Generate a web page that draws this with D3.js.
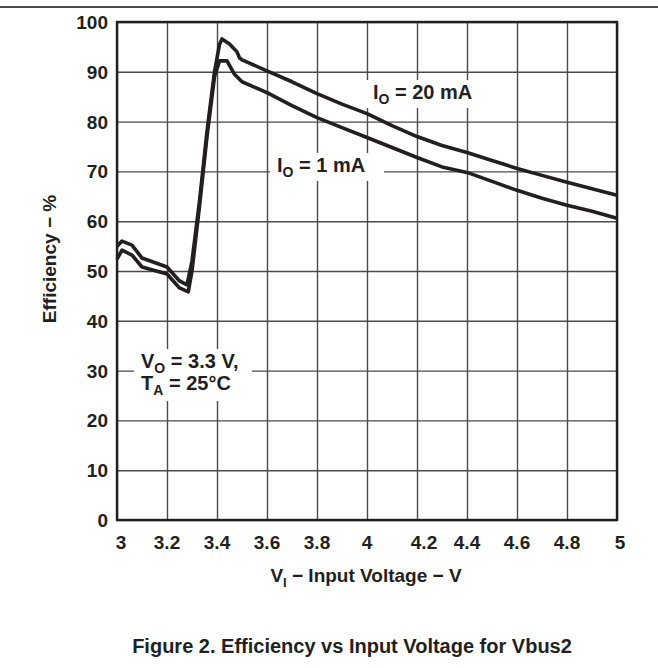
<!DOCTYPE html>
<head>
	<script src="https://d3js.org/d3.v7.min.js"></script>
	<style type="text/css">
		body { margin: 0; background: #fff; }
		svg text { font-family: "Liberation Sans", Arial, sans-serif; font-weight: bold; fill: #231f20; }
	</style>
</head>
<body>
	<div id="chart"></div>
</body>
<script>
	// values
	var vIn20 = [3.0, 3.02, 3.06, 3.1, 3.2, 3.25, 3.28, 3.3, 3.33, 3.36, 3.39, 3.41, 3.42, 3.45, 3.48, 3.49, 3.5, 3.6, 3.7, 3.8, 3.9, 4.0, 4.1, 4.2, 4.3, 4.4, 4.5, 4.6, 4.7, 4.8, 4.9, 5.0];
	var eff20 = [55.0, 56.0, 55.2, 52.6, 50.8, 48.0, 47.2, 52, 64, 78, 90, 95.5, 96.6, 95.6, 94.0, 92.8, 92.4, 90.2, 88.0, 85.6, 83.5, 81.6, 79.2, 77.0, 75.2, 73.8, 72.2, 70.6, 69.2, 67.8, 66.5, 65.2];

	var vIn1 = [3.0, 3.02, 3.06, 3.1, 3.2, 3.25, 3.285, 3.3, 3.33, 3.36, 3.39, 3.41, 3.44, 3.47, 3.5, 3.6, 3.7, 3.8, 3.9, 4.0, 4.1, 4.2, 4.3, 4.4, 4.5, 4.6, 4.7, 4.8, 4.9, 5.0];
	var eff1 = [52.4, 54.2, 53.2, 50.8, 49.4, 46.6, 45.8, 50, 63, 77, 89, 92.2, 92.2, 89.5, 88.0, 85.8, 83.2, 80.8, 78.8, 76.8, 74.8, 72.8, 70.9, 69.8, 68.0, 66.2, 64.6, 63.2, 62.0, 60.6];

	var xTicks = [3, 3.2, 3.4, 3.6, 3.8, 4, 4.2, 4.4, 4.6, 4.8, 5];
	var yTicks = [0, 10, 20, 30, 40, 50, 60, 70, 80, 90, 100];

	var width = 658, height = 668;
	var pLeft = 117, pRight = 617, pTop = 22, pBottom = 520;

	var svg = d3.select("#chart").append("svg")
		.attr("width", width)
		.attr("height", height);

	var x = d3.scaleLinear().domain([3, 5]).range([pLeft, pRight]);
	var y = d3.scaleLinear().domain([0, 100]).range([pBottom, pTop]);

	// rule at page top
	svg.append("line")
		.attr("x1", 0).attr("x2", width)
		.attr("y1", 7).attr("y2", 7)
		.attr("stroke", "#111").attr("stroke-width", 1.5);

	// grid
	svg.append("g")
		.attr("transform", "translate(0," + pBottom + ")")
		.call(d3.axisBottom(x).tickValues(xTicks).tickSize(-(pBottom - pTop)).tickFormat(""))
		.call(g => g.select(".domain").remove())
		.call(g => g.selectAll("line").attr("stroke", "#4a4a4a").attr("stroke-width", 1.4));
	svg.append("g")
		.attr("transform", "translate(" + pLeft + ",0)")
		.call(d3.axisLeft(y).tickValues(yTicks).tickSize(-(pRight - pLeft)).tickFormat(""))
		.call(g => g.select(".domain").remove())
		.call(g => g.selectAll("line").attr("stroke", "#4a4a4a").attr("stroke-width", 1.4));

	// frame
	svg.append("rect")
		.attr("x", pLeft).attr("y", pTop)
		.attr("width", pRight - pLeft).attr("height", pBottom - pTop)
		.attr("fill", "none").attr("stroke", "#231f20").attr("stroke-width", 2.4);

	// tick labels
	svg.append("g").selectAll("text")
		.data(yTicks).enter().append("text")
		.attr("x", pLeft - 9)
		.attr("y", d => y(d) + 7)
		.attr("text-anchor", "end")
		.attr("font-size", 19)
		.text(d => d);
	svg.append("g").selectAll("text")
		.data(xTicks).enter().append("text")
		.attr("x", d => x(d) + (d === 3 ? 4 : d === 5 ? 3 : d === 4.2 ? 7 : 0))
		.attr("y", pBottom + 29)
		.attr("text-anchor", "middle")
		.attr("font-size", 19)
		.text(d => d);

	// axis titles
	var xt = svg.append("text")
		.attr("x", 366).attr("y", 582)
		.attr("text-anchor", "middle")
		.attr("font-size", 19);
	xt.append("tspan").text("V");
	xt.append("tspan").attr("font-size", 13).attr("dy", 5).text("I");
	xt.append("tspan").attr("dy", -5).text(" \u2212 Input Voltage \u2212 V");

	svg.append("text")
		.attr("transform", "translate(56," + 259 + ") rotate(-90)")
		.attr("text-anchor", "middle")
		.attr("font-size", 19)
		.text("Efficiency \u2212 %");

	// curves
	var line = d3.line()
		.x(d => x(d[0]))
		.y(d => y(d[1]));

	svg.append("path")
		.datum(d3.zip(vIn20, eff20))
		.attr("d", line)
		.attr("fill", "none").attr("stroke", "#231f20")
		.attr("stroke-width", 3.6).attr("stroke-linejoin", "round");
	svg.append("path")
		.datum(d3.zip(vIn1, eff1))
		.attr("d", line)
		.attr("fill", "none").attr("stroke", "#231f20")
		.attr("stroke-width", 3.6).attr("stroke-linejoin", "round");

	// labels with white knock-out
	function label(lines, xPos, yPos, boxW, boxH) {
		svg.append("rect")
			.attr("x", xPos - 7).attr("y", yPos - 19)
			.attr("width", boxW).attr("height", boxH)
			.attr("fill", "#fff");
		lines.forEach(function (ln, i) {
			var t = svg.append("text")
				.attr("x", xPos).attr("y", yPos + i * 22)
				.attr("font-size", 20);
			t.append("tspan").text(ln[0]);
			t.append("tspan").attr("font-size", 14).attr("dy", 5).text(ln[1]);
			t.append("tspan").attr("dy", -5).text(ln[2]);
		});
	}
	label([["I", "O", " = 20 mA"]], 373, 99, 120, 28);
	label([["I", "O", " = 1 mA"]], 277, 172, 114, 28);
	label([["V", "O", " = 3.3 V,"], ["T", "A", " = 25\u00B0C"]], 141, 368, 118, 52);

	// caption
	svg.append("text")
		.attr("x", 352).attr("y", 653)
		.attr("text-anchor", "middle")
		.attr("font-size", 20)
		.text("Figure 2. Efficiency vs Input Voltage for Vbus2");
</script>
